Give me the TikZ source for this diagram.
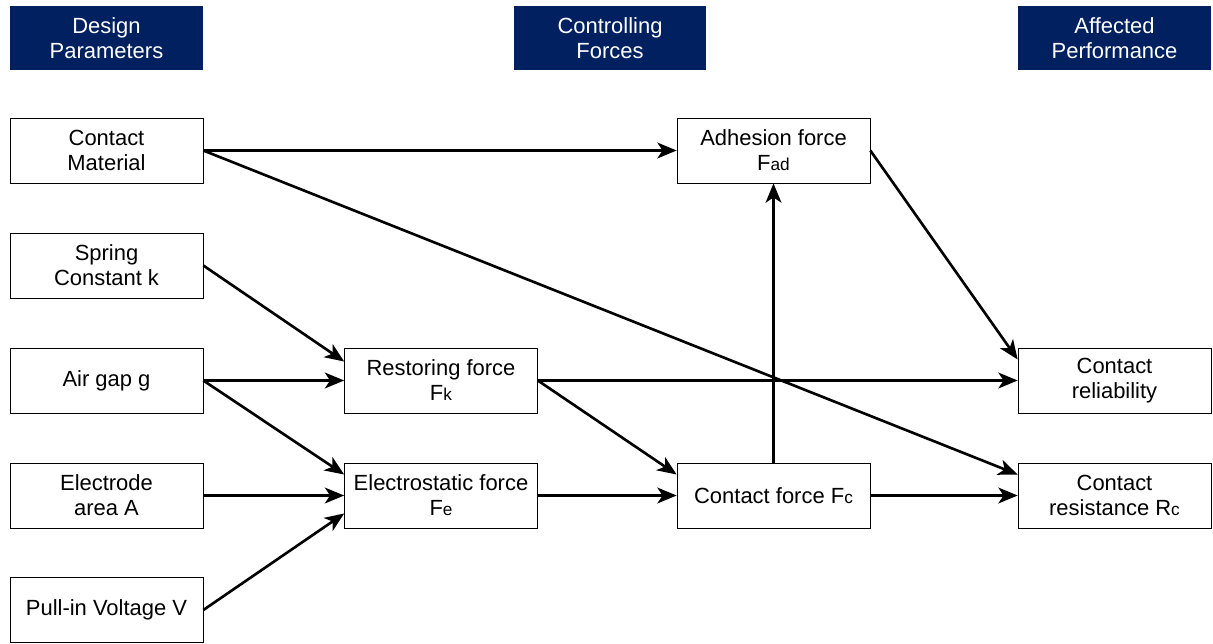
\documentclass[tikz,border=0pt]{standalone}
\usepackage{fontspec}
\setmainfont{Liberation Sans}
\usetikzlibrary{arrows.meta}
\definecolor{navy}{HTML}{002060}
\newcommand{\idx}[1]{{\fontsize{9.8}{10}\selectfont #1}}

\begin{document}
\begin{tikzpicture}[x=0.02cm, y=-0.02cm,
        font=\fontsize{12.5}{14.2}\selectfont,
        head/.style={fill=navy, text=white, minimum width=3.86cm, minimum height=1.28cm, align=center, inner sep=0pt},
        box/.style={draw, thin, minimum width=3.86cm, minimum height=1.3cm, align=center, inner sep=0pt},
        link/.style={line width=1.5pt, -{Stealth[length=11pt, width=9pt, inset=3pt]}}]
        \useasboundingbox (0, 0) rectangle (1213, 643);

        % column headers
        \node[head] (hdes) at (106.5, 38) {Design\\Parameters};
        \node[head] (hfor) at (610, 38) {Controlling\\Forces};
        \node[head] (hper) at (1114.5, 38) {Affected\\Performance};

        % design parameters
        \node[box] (mat) at (106.5, 150.5) {Contact\\Material};
        \node[box] (spr) at (106.5, 265.5) {Spring\\Constant k};
        \node[box] (gap) at (106.5, 380.5) {Air gap g};
        \node[box] (ele) at (106.5, 495.5) {Electrode\\area A};
        \node[box] (vol) at (106.5, 610) {Pull-in Voltage V};

        % forces
        \node[box] (frs) at (441, 380.5) {Restoring force\\F\idx{k}};
        \node[box] (fes) at (441, 495.5) {Electrostatic force\\F\idx{e}};
        \node[box] (fad) at (773.5, 150.5) {Adhesion force\\F\idx{ad}};
        \node[box] (fct) at (773.5, 495.5) {Contact force F\idx{c}};

        % performance
        \node[box] (rel) at (1114.5, 380.5) {Contact\\reliability};
        \node[box] (res) at (1114.5, 495.5) {Contact\\resistance R\idx{c}};

        \draw[link] (mat.east) -- (fad.west);
        \draw[link] (mat.east) -- ([yshift=0.42cm]res.west);
        \draw[link] (spr.east) -- ([yshift=0.38cm]frs.west);
        \draw[link] (gap.east) -- (frs.west);
        \draw[link] (gap.east) -- ([yshift=0.42cm]fes.west);
        \draw[link] (ele.east) -- (fes.west);
        \draw[link] (vol.east) -- ([yshift=-0.36cm]fes.west);
        \draw[link] (frs.east) -- (rel.west);
        \draw[link] (frs.east) -- ([yshift=0.42cm]fct.west);
        \draw[link] (fes.east) -- (fct.west);
        \draw[link] (fct.north) -- (fad.south);
        \draw[link] (fad.east) -- ([yshift=0.42cm]rel.west);
        \draw[link] (fct.east) -- (res.west);
\end{tikzpicture}
\end{document}
